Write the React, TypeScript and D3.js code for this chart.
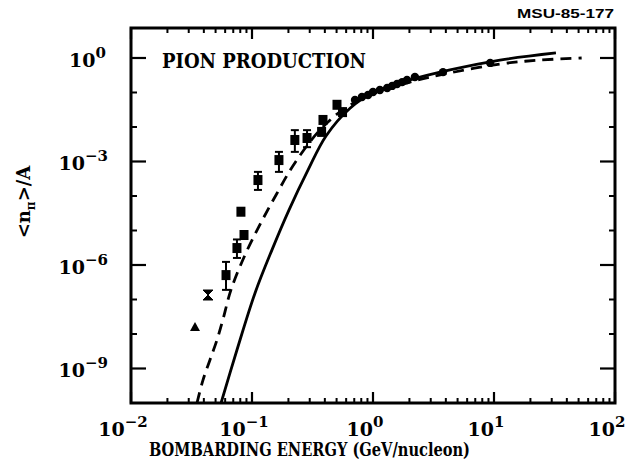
import React from "react";
import * as d3 from "d3";

// ---- data ----
const xDomain: [number, number] = [0.01, 100];
const yDomain: [number, number] = [1e-10, 7.4];
const xTickExps = [-2, -1, 0, 1, 2];
const yTickExps = [0, -3, -6, -9];

// solid curve
const solidE = [0.0555, 0.0752, 0.106, 0.146, 0.202, 0.29, 0.409, 0.646, 1.0, 2.02, 4.33, 11.2, 32.5];
const solidV = [1e-10, 3.5e-9, 1.55e-7, 2.7e-6, 3.9e-5, 5.6e-4, 5.5e-3, 0.035, 0.098, 0.23, 0.45, 0.87, 1.4];

// dashed curve
const dashE = [0.0351, 0.0394, 0.045, 0.0514, 0.0575, 0.067, 0.0875, 0.116, 0.158, 0.226, 0.365, 0.587, 1.0, 2.02, 4.33, 11.2, 24, 53];
const dashV = [1e-10, 4.7e-10, 1.8e-9, 6.8e-9, 2.6e-8, 1.9e-7, 1.95e-6, 1.45e-5, 1.07e-4, 9.1e-4, 8.2e-3, 0.035, 0.091, 0.2, 0.37, 0.67, 0.87, 1.0];

// data points: energy, value, error low, error high, symbol
const ptE = [0.0338, 0.0433, 0.061, 0.0751, 0.0859, 0.081, 0.112, 0.167, 0.226, 0.285, 0.386, 0.376, 0.504, 0.56];
const ptV = [1.6e-8, 1.35e-7, 5.1e-7, 3.1e-6, 7.4e-6, 3.5e-5, 2.9e-4, 1.1e-3, 4.2e-3, 4.8e-3, 0.016, 7.2e-3, 0.044, 0.027];
const ptLo = [0, 0, 1.9e-7, 1.6e-6, 0, 0, 1.5e-4, 5.0e-4, 1.9e-3, 2.6e-3, 0, 0, 0, 0];
const ptHi = [0, 0, 1.23e-6, 5.5e-6, 0, 0, 5.0e-4, 1.9e-3, 8.1e-3, 8.1e-3, 0, 0, 0, 0];
const ptSym = ["tri", "bow", "sq", "sq", "sq", "sq", "sq", "sq", "sq", "sq", "sq", "sq", "sq", "sq"];

const circE = [0.71, 0.81, 0.91, 1.0, 1.14, 1.31, 1.44, 1.58, 1.74, 1.91, 2.22, 3.79, 9.3];
const circV = [0.061, 0.074, 0.085, 0.103, 0.118, 0.135, 0.155, 0.177, 0.2, 0.23, 0.28, 0.39, 0.72];

const titleText = "PION PRODUCTION";
const xTitle = "BOMBARDING ENERGY (GeV/nucleon)";
const idText = "MSU-85-177";

const W = 625, H = 467;
const L = 131, R = 615, T = 28, B = 403;

const SERIF = "'DejaVu Serif', 'Liberation Serif', serif";

export default function App() {
  const x = d3.scaleLog().domain(xDomain).range([L, R]);
  const y = d3.scaleLog().domain(yDomain).range([B, T]);

  const line = d3
    .line<[number, number]>()
    .x((d) => x(d[0]))
    .y((d) => y(d[1]))
    .curve(d3.curveCatmullRom.alpha(0.5));

  const solidPath = line(solidE.map((e, i) => [e, solidV[i]]) as [number, number][]) || "";
  const dashPath = line(dashE.map((e, i) => [e, dashV[i]]) as [number, number][]) || "";

  // ticks
  const xMinor: number[] = [];
  for (let p = -2; p < 2; p++) for (let k = 2; k <= 9; k++) xMinor.push(k * Math.pow(10, p));
  const yMinor: number[] = [];
  for (let p = -10; p <= 0; p++) if (p % 3 !== 0) yMinor.push(Math.pow(10, p));

  const sw = 2.8;

  return (
    <svg width={W} height={H} style={{ position: "absolute", left: 0, top: 0, background: "#fff" }}>
      <rect x={0} y={0} width={W} height={H} fill="#fff" />
      <defs>
        <clipPath id="plotclip">
          <rect x={L} y={T} width={R - L} height={B - T} />
        </clipPath>
      </defs>

      {/* frame */}
      <rect x={L} y={T} width={R - L} height={B - T} fill="none" stroke="#000" strokeWidth={3} />

      {/* x ticks */}
      {xTickExps.map((p) => {
        const px = x(Math.pow(10, p));
        return (
          <g key={"xt" + p}>
            <line x1={px} x2={px} y1={B} y2={B - 11} stroke="#000" strokeWidth={2.2} />
            <line x1={px} x2={px} y1={T} y2={T + 11} stroke="#000" strokeWidth={2.2} />
          </g>
        );
      })}
      {xMinor.map((v, i) => {
        const px = x(v);
        return (
          <g key={"xm" + i}>
            <line x1={px} x2={px} y1={B} y2={B - 5} stroke="#000" strokeWidth={2} />
            <line x1={px} x2={px} y1={T} y2={T + 5} stroke="#000" strokeWidth={2} />
          </g>
        );
      })}

      {/* y ticks */}
      {yTickExps.map((p) => {
        const py = y(Math.pow(10, p));
        return (
          <g key={"yt" + p}>
            <line x1={L} x2={L + 15} y1={py} y2={py} stroke="#000" strokeWidth={2.2} />
            <line x1={R} x2={R - 15} y1={py} y2={py} stroke="#000" strokeWidth={2.2} />
          </g>
        );
      })}
      {yMinor.map((v, i) => {
        const py = y(v);
        return (
          <g key={"ym" + i}>
            <line x1={L} x2={L + 6} y1={py} y2={py} stroke="#000" strokeWidth={2} />
            <line x1={R} x2={R - 6} y1={py} y2={py} stroke="#000" strokeWidth={2} />
          </g>
        );
      })}

      {/* x tick labels */}
      {xTickExps.map((p) => {
        const px = x(Math.pow(10, p));
        const sup = p < 0 ? "\u2212" + Math.abs(p) : String(p);
        return (
          <text key={"xl" + p} x={px - 8} y={436} textAnchor="middle" fontFamily={SERIF} fontWeight="bold" fontSize={19}>
            10
            <tspan dy={-9} fontSize={15}>{sup}</tspan>
          </text>
        );
      })}

      {/* y tick labels */}
      {yTickExps.map((p) => {
        const py = y(Math.pow(10, p));
        const sup = p < 0 ? "\u2212" + Math.abs(p) : String(p);
        return (
          <text key={"yl" + p} x={p === 0 ? 106 : 108} y={py + 9} textAnchor="end" fontFamily={SERIF} fontWeight="bold" fontSize={19}>
            10
            <tspan dy={-9} fontSize={15}>{sup}</tspan>
          </text>
        );
      })}

      {/* curves */}
      <g clipPath="url(#plotclip)">
        <path d={solidPath} fill="none" stroke="#000" strokeWidth={sw} />
        <path d={dashPath} fill="none" stroke="#000" strokeWidth={sw} strokeDasharray="11,7" />
      </g>

      {/* data points */}
      {ptE.map((e, i) => {
        const px = x(e);
        const py = y(ptV[i]);
        const s = ptSym[i];
        const parts: React.ReactNode[] = [];
        if (ptLo[i] > 0) {
          const ylo = y(ptLo[i]);
          const yhi = y(ptHi[i]);
          parts.push(<line key="e" x1={px} x2={px} y1={ylo} y2={yhi} stroke="#000" strokeWidth={2} />);
          parts.push(<line key="c1" x1={px - 4} x2={px + 4} y1={ylo} y2={ylo} stroke="#000" strokeWidth={2} />);
          parts.push(<line key="c2" x1={px - 4} x2={px + 4} y1={yhi} y2={yhi} stroke="#000" strokeWidth={2} />);
        }
        if (s === "tri") {
          parts.push(<path key="m" d={`M${px},${py - 5}L${px + 5},${py + 4}L${px - 5},${py + 4}Z`} fill="#000" />);
        } else if (s === "bow") {
          parts.push(
            <path key="m" d={`M${px - 5},${py - 5}L${px + 5},${py - 5}L${px - 5},${py + 5}L${px + 5},${py + 5}Z`} fill="#000" stroke="#000" strokeWidth={1} />
          );
        } else {
          parts.push(<rect key="m" x={px - 4.5} y={py - 5} width={9} height={10} fill="#000" />);
        }
        return <g key={"p" + i}>{parts}</g>;
      })}
      {circE.map((e, i) => (
        <circle key={"c" + i} cx={x(e)} cy={y(circV[i])} r={4.2} fill="#000" />
      ))}

      {/* texts */}
      <text x={162} y={68} fontFamily={SERIF} fontWeight="bold" fontSize={20} textLength={204} lengthAdjust="spacingAndGlyphs">
        {titleText}
      </text>
      <text x={517} y={18} fontFamily="'Liberation Sans', Arial, sans-serif" fontWeight="bold" fontSize={13} textLength={97} lengthAdjust="spacingAndGlyphs">
        {idText}
      </text>
      <text x={149} y={456} fontFamily={SERIF} fontWeight="bold" fontSize={19} textLength={321} lengthAdjust="spacingAndGlyphs">
        {xTitle}
      </text>
      <text transform="translate(30,202) rotate(-90)" textAnchor="middle" fontFamily={SERIF} fontWeight="bold" fontSize={18}>
        {"<n"}
        <tspan dy={5} fontSize={12}>π</tspan>
        <tspan dy={-5}>{">/A"}</tspan>
      </text>
    </svg>
  );
}
